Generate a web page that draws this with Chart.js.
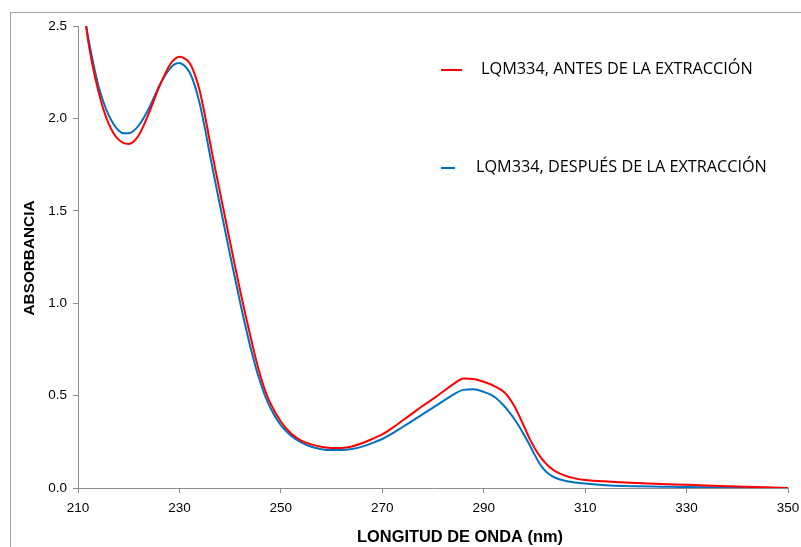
<!DOCTYPE html>
<html>
<head>
<meta charset="utf-8">
<script src="https://cdn.jsdelivr.net/npm/chart.js@4"></script>
<style>
  html, body { margin: 0; padding: 0; background: #fff; }
  body { width: 801px; height: 547px; overflow: hidden; position: relative; }
  #frame { position: absolute; left: 10px; top: 12px; width: 900px; height: 700px;
           border-left: 1px solid #a6a6a6; border-top: 1px solid #a6a6a6; }
  #wrap { position: absolute; left: 0; top: 0; width: 801px; height: 547px; }
</style>
</head>
<body>
<div id="frame"></div>
<div id="wrap"><canvas id="spectrumChart" width="801" height="547"></canvas></div>
<script>
// Wavelengths (nm)
const wavelengths = [211, 212, 213, 214, 215, 216, 217, 218, 219, 220,
  221, 222, 223, 224, 225, 226, 227, 228, 229, 230,
  231, 232, 233, 234, 235, 236, 237, 238, 239, 240,
  241, 242, 243, 244, 245, 246, 247, 248, 250, 252,
  254, 256, 258, 260, 262, 264, 266, 268, 270, 272,
  274, 276, 278, 280, 282, 284, 286, 288, 290, 292,
  294, 295, 296, 297, 298, 299, 300, 301, 302, 303,
  304, 306, 308, 310, 315, 320, 325, 330, 335, 340, 345, 350];

// Absorbance before extraction (red)
const antes = [2.62, 2.42, 2.27, 2.15, 2.05, 1.975, 1.92, 1.885, 1.866, 1.862,
  1.875, 1.91, 1.965, 2.03, 2.10, 2.17, 2.23, 2.285, 2.32, 2.333,
  2.325, 2.30, 2.24, 2.15, 2.02, 1.875, 1.735, 1.60, 1.465, 1.33,
  1.195, 1.065, 0.94, 0.82, 0.705, 0.605, 0.52, 0.455, 0.36, 0.295,
  0.257, 0.236, 0.223, 0.216, 0.217, 0.225, 0.242, 0.265, 0.29, 0.325,
  0.365, 0.405, 0.445, 0.482, 0.522, 0.562, 0.593, 0.59, 0.575, 0.553,
  0.52, 0.488, 0.445, 0.39, 0.33, 0.27, 0.218, 0.175, 0.14, 0.113,
  0.093, 0.067, 0.052, 0.043, 0.034, 0.027, 0.021, 0.017, 0.012, 0.008, 0.004, 0];

// Absorbance after extraction (blue)
const despues = [2.6, 2.44, 2.30, 2.18, 2.09, 2.02, 1.97, 1.935, 1.92, 1.92,
  1.933, 1.963, 2.005, 2.055, 2.115, 2.175, 2.225, 2.265, 2.292, 2.30,
  2.285, 2.25, 2.18, 2.08, 1.95, 1.805, 1.665, 1.53, 1.395, 1.26,
  1.13, 1.00, 0.878, 0.762, 0.658, 0.568, 0.49, 0.43, 0.34, 0.283,
  0.247, 0.223, 0.21, 0.205, 0.205, 0.211, 0.224, 0.243, 0.265, 0.295,
  0.33, 0.365, 0.40, 0.435, 0.47, 0.505, 0.531, 0.534, 0.52, 0.495,
  0.445, 0.412, 0.375, 0.333, 0.285, 0.235, 0.182, 0.133, 0.097, 0.073,
  0.057, 0.039, 0.03, 0.024, 0.013, 0.009, 0.007, 0.005, 0.004, 0.003, 0.002, 0];

const seriesLabels = ['LQM334, ANTES DE LA EXTRACCIÓN', 'LQM334, DESPUÉS DE LA EXTRACCIÓN'];
const seriesColors = ['#ff0000', '#0070c0'];
const xTitle = 'LONGITUD DE ONDA (nm)';
const yTitle = 'ABSORBANCIA';

const toPoints = vals => wavelengths.map((w, i) => ({ x: w, y: vals[i] }));

// fit text to a given width
function fitFont(ctx, text, weight, family, width) {
  ctx.font = weight + ' 20px ' + family;
  const size = 20 * width / ctx.measureText(text).width;
  ctx.font = weight + ' ' + size.toFixed(2) + 'px ' + family;
}

const overlay = {
  id: 'overlay',
  afterDraw(chart) {
    const ctx = chart.ctx;
    ctx.save();
    ctx.fillStyle = '#000';
    ctx.textBaseline = 'middle';

    // Legend inside the plot
    const legend = [
      { lx: 441, lw: 21, ly: 70, tx: 481, tw: 272 },
      { lx: 441, lw: 14, ly: 168, tx: 476, tw: 291 }
    ];
    legend.forEach((l, i) => {
      ctx.strokeStyle = seriesColors[i];
      ctx.lineWidth = 2;
      ctx.beginPath();
      ctx.moveTo(l.lx, l.ly);
      ctx.lineTo(l.lx + l.lw, l.ly);
      ctx.stroke();
      fitFont(ctx, seriesLabels[i], 'normal', '"Open Sans", "Noto Sans", sans-serif', l.tw);
      ctx.textAlign = 'left';
      ctx.fillText(seriesLabels[i], l.tx, l.ly - 1);
    });

    // Axis titles
    fitFont(ctx, xTitle, 'bold', '"Liberation Sans", Arial, sans-serif', 206);
    ctx.textAlign = 'center';
    ctx.fillText(xTitle, 460, 537);

    ctx.translate(30, 258);
    ctx.rotate(-Math.PI / 2);
    fitFont(ctx, yTitle, 'bold', '"Liberation Sans", Arial, sans-serif', 115);
    ctx.fillText(yTitle, 0, 0);
    ctx.restore();
  }
};

const tickFont = { family: '"Liberation Sans", Arial, sans-serif', size: 13.5 };

new Chart(document.getElementById('spectrumChart'), {
  type: 'line',
  data: {
    datasets: [
      {
        label: seriesLabels[0],
        data: toPoints(antes),
        borderColor: seriesColors[0],
        borderWidth: 2,
        pointRadius: 0,
        cubicInterpolationMode: 'monotone',
        fill: false
      },
      {
        label: seriesLabels[1],
        data: toPoints(despues),
        borderColor: seriesColors[1],
        borderWidth: 2,
        pointRadius: 0,
        cubicInterpolationMode: 'monotone',
        fill: false
      }
    ]
  },
  options: {
    responsive: false,
    animation: false,
    layout: { padding: { top: 26, right: 13, left: 0, bottom: 0 } },
    scales: {
      x: {
        type: 'linear',
        min: 210,
        max: 350,
        ticks: { stepSize: 20, color: '#000', font: tickFont, padding: 7, maxRotation: 0 },
        grid: { drawOnChartArea: false, tickLength: 5, color: '#8c8c8c' },
        border: { color: '#8c8c8c', width: 1 },
        afterFit: s => { s.height = 59; s.paddingLeft = 0; s.paddingRight = 0; }
      },
      y: {
        min: 0,
        max: 2.5,
        ticks: { stepSize: 0.5, color: '#000', font: tickFont, padding: 6,
                 callback: v => v.toFixed(1) },
        grid: { drawOnChartArea: false, tickLength: 5, color: '#8c8c8c' },
        border: { color: '#8c8c8c', width: 1 },
        afterFit: s => { s.width = 78; s.paddingTop = 0; s.paddingBottom = 0; }
      }
    },
    plugins: {
      legend: { display: false },
      tooltip: { enabled: false }
    }
  },
  plugins: [overlay]
});
</script>
</body>
</html>
